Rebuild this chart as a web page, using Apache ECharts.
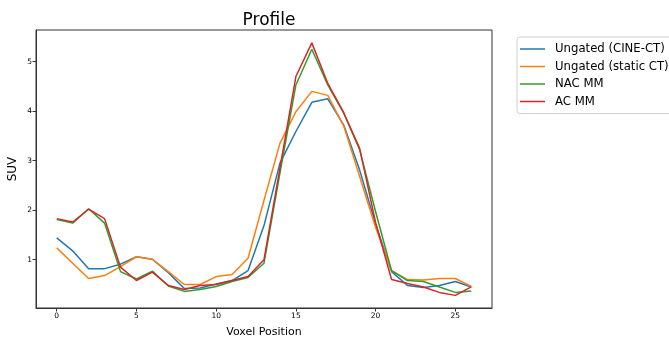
<!DOCTYPE html>
<html>
<head>
<meta charset="utf-8">
<script src="https://cdn.jsdelivr.net/npm/echarts@6/dist/echarts.min.js"></script>
<style>html,body{margin:0;padding:0;background:#fff;}#c{width:669px;height:337px;}</style>
</head>
<body>
<div id="c"></div>
<script>
const voxels = [0,1,2,3,4,5,6,7,8,9,10,11,12,13,14,15,16,17,18,19,20,21,22,23,24,25,26];
const seriesNames = ['Ungated (CINE-CT)', 'Ungated (static CT)', 'NAC MM', 'AC MM'];
const ungatedCine = [1.44,1.18,0.82,0.82,0.91,1.06,1.01,0.74,0.42,0.43,0.51,0.58,0.78,1.69,2.95,3.59,4.18,4.25,3.72,2.81,1.72,0.76,0.48,0.44,0.48,0.56,0.45];
const ungatedStatic = [1.24,0.93,0.62,0.68,0.86,1.06,1.01,0.76,0.50,0.50,0.66,0.70,1.03,2.20,3.35,3.99,4.40,4.32,3.70,2.68,1.65,0.78,0.60,0.59,0.62,0.62,0.46];
const nacMM = [1.81,1.74,2.03,1.74,0.76,0.61,0.77,0.47,0.36,0.40,0.46,0.56,0.64,0.93,2.75,4.53,5.25,4.53,3.96,3.22,1.97,0.78,0.58,0.56,0.45,0.34,0.37];
const acMM = [1.83,1.76,2.02,1.83,0.85,0.58,0.75,0.48,0.40,0.48,0.50,0.58,0.66,1.00,2.85,4.70,5.38,4.56,3.97,3.25,1.75,0.60,0.52,0.45,0.34,0.28,0.45];
const xTicks = [0,5,10,15,20,25];
const yTicks = [1,2,3,4,5];

const colors = ['#1f77b4','#ff7f0e','#2ca02c','#d62728'];
const allData = [ungatedCine, ungatedStatic, nacMM, acMM];
const font = 'DejaVu Sans';

const chart = echarts.init(document.getElementById('c'), null, {renderer:'canvas'});
chart.setOption({
  animation: false,
  backgroundColor: '#fff',
  title: {
    text: 'Profile', left: 264, top: 7, textAlign: 'center',
    textStyle: {fontFamily: font, fontSize: 17, fontWeight: 'normal', color: '#000'}
  },
  legend: {
    orient: 'vertical', left: 517, top: 37,
    data: seriesNames,
    icon: 'rect', itemWidth: 25, itemHeight: 1.5, itemGap: 3.5,
    padding: [5, 20, 5, 3],
    borderColor: '#d0d0d0', borderWidth: 1, borderRadius: 3,
    textStyle: {fontFamily: font, fontSize: 11.7, color: '#000', lineHeight: 14, padding: [0,0,0,5]}
  },
  grid: {left: 36, right: 177, top: 30, bottom: 29, show: true, borderColor: '#333', borderWidth: 1,
         containLabel: false, outerBoundsMode: 'none'},
  xAxis: {
    type: 'value', min: -1.3, max: 27.3,
    name: 'Voxel Position', nameLocation: 'middle', nameGap: 19, nameMoveOverlap: false,
    nameTextStyle: {fontFamily: font, fontSize: 11, color: '#000'},
    axisLine: {show: true, onZero: false, lineStyle: {color: '#333', width: 1}},
    axisTick: {show: true, length: 3.5, customValues: xTicks, lineStyle: {color: '#333'}},
    axisLabel: {customValues: xTicks, fontFamily: font, fontSize: 7.5, color: '#000', margin: 4},
    splitLine: {show: false}
  },
  yAxis: {
    type: 'value', min: 0.025, max: 5.64,
    name: 'SUV', nameLocation: 'middle', nameGap: 17, nameMoveOverlap: false,
    nameTextStyle: {fontFamily: font, fontSize: 12, color: '#000'},
    axisLine: {show: true, onZero: false, lineStyle: {color: '#333', width: 1}},
    axisTick: {show: true, length: 3.5, customValues: yTicks, lineStyle: {color: '#333'}},
    axisLabel: {customValues: yTicks, fontFamily: font, fontSize: 7.5, color: '#000', margin: 4},
    splitLine: {show: false}
  },
  series: seriesNames.map((n, k) => ({
    name: n, type: 'line', showSymbol: false, symbol: 'none',
    data: voxels.map((v, i) => [v, allData[k][i]]),
    itemStyle: {color: colors[k]},
    lineStyle: {color: colors[k], width: 1.5},
    z: 2 + k
  }))
});
</script>
</body>
</html>
